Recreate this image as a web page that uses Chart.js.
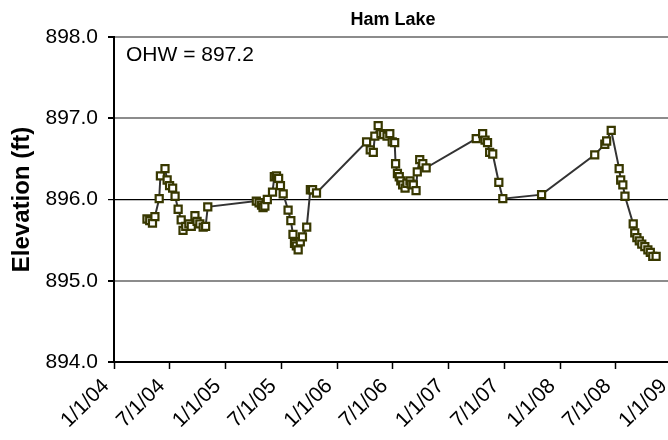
<!DOCTYPE html>
<html>
<head>
<meta charset="utf-8">
<script src="https://cdn.jsdelivr.net/npm/chart.js@4/dist/chart.umd.min.js"></script>
<style>
html,body{margin:0;padding:0;overflow:hidden;background:#fff;}
canvas{display:block;}
</style>
</head>
<body>
<canvas id="c" width="680" height="440" style="width:680px;height:440px"></canvas>
<script>
const chartTitle = "Ham Lake";
const yAxisTitle = "Elevation (ft)";
const annotationText = "OHW = 897.2";

const sampleDates = [
"2004-04-18","2004-04-27","2004-05-06","2004-05-14","2004-05-28","2004-06-01","2004-06-16","2004-06-23",
"2004-07-01","2004-07-11","2004-07-19","2004-07-29","2004-08-08","2004-08-14","2004-08-23","2004-09-02",
"2004-09-10","2004-09-22","2004-09-29","2004-10-08","2004-10-19","2004-10-27","2004-11-03",
"2005-04-11","2005-04-20","2005-04-28","2005-05-03","2005-05-09","2005-05-17","2005-06-03","2005-06-09",
"2005-06-16","2005-06-23","2005-06-29","2005-07-08","2005-07-24","2005-08-02","2005-08-09","2005-08-14",
"2005-08-20","2005-08-26","2005-09-02","2005-09-09","2005-09-23","2005-10-05","2005-10-12","2005-10-25",
"2006-04-07","2006-04-19","2006-04-29","2006-05-04","2006-05-15","2006-05-24","2006-06-02","2006-06-13",
"2006-06-22","2006-06-30","2006-07-08","2006-07-11","2006-07-17","2006-07-23","2006-07-28","2006-08-03",
"2006-08-11","2006-08-17","2006-08-27","2006-08-31","2006-09-07","2006-09-16","2006-09-20","2006-09-28",
"2006-10-08","2006-10-19",
"2007-04-01","2007-04-22","2007-04-30","2007-05-08","2007-05-15","2007-05-25","2007-06-14","2007-06-27",
"2007-11-01",
"2008-04-23","2008-05-26","2008-06-01","2008-06-16","2008-07-12","2008-07-17","2008-07-24","2008-07-31",
"2008-08-27","2008-09-01","2008-09-08","2008-09-16","2008-09-24","2008-10-04","2008-10-14","2008-10-22",
"2008-10-30","2008-11-10"
];
const elevations = [
895.76,895.74,895.71,895.79,896.01,896.29,896.38,896.24,
896.17,896.14,896.04,895.88,895.75,895.62,895.67,895.70,
895.67,895.80,895.73,895.70,895.66,895.67,895.91,
895.98,895.96,895.93,895.90,895.92,896.00,896.09,896.28,
896.29,896.26,896.17,896.07,895.87,895.74,895.57,895.46,
895.43,895.38,895.48,895.54,895.66,896.12,896.12,896.08,
896.71,896.61,896.58,896.78,896.91,896.81,896.80,896.78,
896.81,896.71,896.70,896.44,896.32,896.28,896.23,896.18,
896.14,896.20,896.23,896.19,896.18,896.11,896.34,896.49,
896.44,896.39,
896.75,896.81,896.73,896.70,896.58,896.56,896.21,896.01,
896.06,
896.55,896.68,896.72,896.85,896.38,896.24,896.18,896.04,
895.70,895.59,895.53,895.49,895.45,895.42,895.38,895.35,
895.30,895.30
];
const tickDates = ["2004-01-01","2004-07-01","2005-01-01","2005-07-01","2006-01-01","2006-07-01",
                   "2007-01-01","2007-07-01","2008-01-01","2008-07-01","2009-01-01"];
const tickLabels = ["1/1/04","7/1/04","1/1/05","7/1/05","1/1/06","7/1/06",
                    "1/1/07","7/1/07","1/1/08","7/1/08","1/1/09"];
const yTicks = [894, 895, 896, 897, 898];

const toDay = s => Date.parse(s + "T00:00:00Z") / 86400000;
const tickDays = tickDates.map(toDay);
const points = sampleDates.map((d, i) => ({x: toDay(d), y: elevations[i]}));

const FONT = "'Liberation Sans', Arial, sans-serif";

const annotationPlugin = {
  id: 'ohw',
  afterDraw(chart) {
    const ctx = chart.ctx;
    const a = chart.chartArea;
    ctx.save();
    ctx.font = "21px " + FONT;
    ctx.fillStyle = "#000";
    ctx.textBaseline = "middle";
    ctx.textAlign = "left";
    ctx.fillText(annotationText, a.left + 12, a.top + 18);
    ctx.restore();
  }
};

new Chart(document.getElementById('c'), {
  type: 'line',
  data: {
    datasets: [{
      data: points,
      borderColor: '#333333',
      borderWidth: 2,
      pointStyle: 'rect',
      pointRadius: 5,
      pointBorderWidth: 2.2,
      pointBorderColor: '#383800',
      pointBackgroundColor: '#ffffff',
      tension: 0,
      fill: false
    }]
  },
  options: {
    responsive: false,
    animation: false,
    devicePixelRatio: 1,
    layout: {padding: {left: 0, right: 8, top: 0, bottom: 0}},
    plugins: {
      legend: {display: false},
      tooltip: {enabled: false},
      title: {
        display: true,
        text: chartTitle,
        fullSize: false,
        color: '#000',
        font: {family: FONT, size: 18, weight: 'bold', lineHeight: 1.2},
        padding: {top: 9, bottom: 6.4}
      }
    },
    scales: {
      x: {
        type: 'linear',
        min: tickDays[0],
        max: tickDays[tickDays.length - 1],
        afterBuildTicks: s => { s.ticks = tickDays.map(v => ({value: v})); },
        afterFit: s => { s.height = 78; s.paddingLeft = 0; s.paddingRight = 0; },
        ticks: {
          autoSkip: false,
          minRotation: 45,
          maxRotation: 45,
          padding: 5,
          labelOffset: -8,
          color: '#000',
          font: {family: FONT, size: 21},
          callback: v => { const i = tickDays.indexOf(v); return i >= 0 ? tickLabels[i] : ''; }
        },
        grid: {drawOnChartArea: false, drawTicks: true, tickLength: 7, tickColor: '#000', tickWidth: 1.5},
        border: {display: true, color: '#000', width: 2}
      },
      y: {
        min: yTicks[0],
        max: yTicks[yTicks.length - 1],
        afterBuildTicks: s => { s.ticks = yTicks.map(v => ({value: v})); },
        afterFit: s => { s.width = 114; },
        ticks: {
          padding: 10,
          color: '#000',
          font: {family: FONT, size: 21},
          callback: v => Number(v).toFixed(1)
        },
        grid: {
          drawTicks: true,
          tickLength: 6,
          tickColor: '#000',
          color: c => (c.tick && (c.tick.value === 896 || c.tick.value === 894)) ? '#000' : '#8c8c8c',
          lineWidth: c => (c.tick && c.tick.value === 896) ? 1.2 : 2
        },
        border: {display: true, color: '#000', width: 2},
        title: {
          display: true,
          text: yAxisTitle,
          color: '#000',
          font: {family: FONT, size: 24, weight: 'bold', lineHeight: 1.2},
          padding: {top: 8, bottom: 0}
        }
      }
    }
  },
  plugins: [annotationPlugin]
});
</script>
</body>
</html>
